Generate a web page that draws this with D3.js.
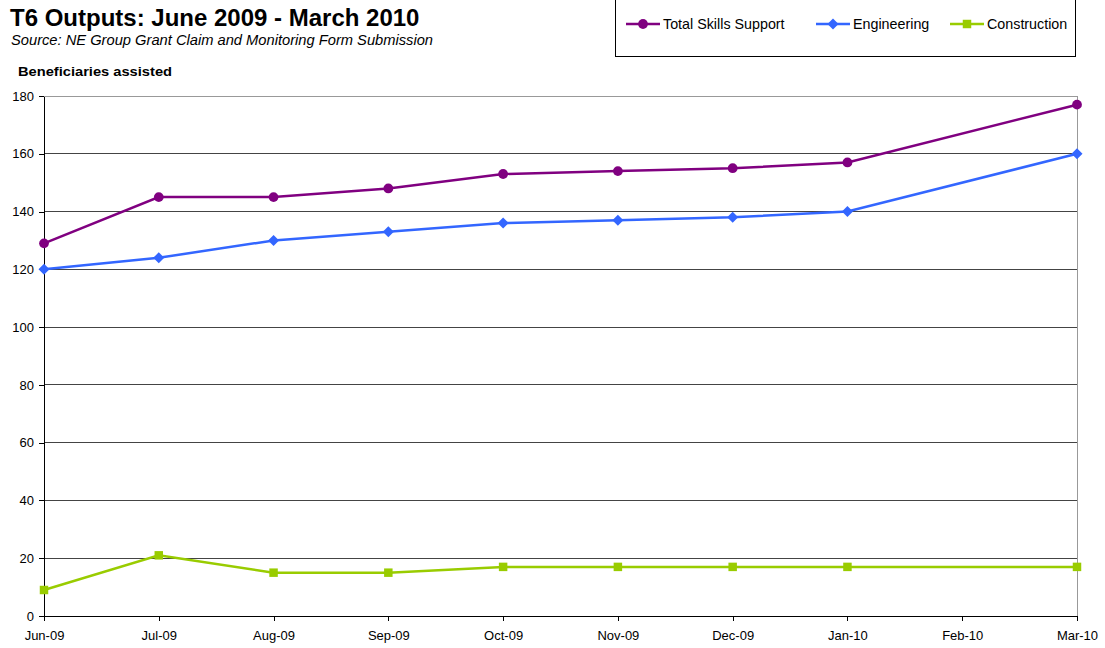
<!DOCTYPE html>
<html>
<head>
<meta charset="utf-8">
<script src="https://cdn.jsdelivr.net/npm/d3@7/dist/d3.min.js"></script>
<style>
  body { margin: 0; background: #fff; }
  svg { font-family: "Liberation Sans", Arial, sans-serif; display: block; }
</style>
</head>
<body>
<svg id="chart" width="1105" height="648"></svg>
<script>
// Monthly outputs, June 2009 - March 2010 (no return for Feb-10)
const months = ["Jun-09", "Jul-09", "Aug-09", "Sep-09", "Oct-09", "Nov-09", "Dec-09", "Jan-10", "Feb-10", "Mar-10"];
const totalSkills = [129, 145, 145, 148, 153, 154, 155, 157, null, 177];
const engineering = [120, 124, 130, 133, 136, 137, 138, 140, null, 160];
const construction = [9, 21, 15, 15, 17, 17, 17, 17, null, 17];
const yTicks = [0, 20, 40, 60, 80, 100, 120, 140, 160, 180];

const series = [
  { name: "Total Skills Support", values: totalSkills, color: "#800080", marker: "circle" },
  { name: "Engineering", values: engineering, color: "#3366FF", marker: "diamond" },
  { name: "Construction", values: construction, color: "#99CC00", marker: "square" }
];

const svg = d3.select("#chart");
const plot = { left: 44, right: 1077, top: 96, bottom: 616 };

const x = d3.scalePoint().domain(months).range([plot.left, plot.right]);
const y = d3.scaleLinear().domain([0, 180]).range([plot.bottom, plot.top]);

// Titles
svg.append("text").attr("x", 10).attr("y", 26)
  .attr("font-size", 24).attr("font-weight", "bold").attr("fill", "#000")
  .text("T6 Outputs: June 2009 - March 2010");
svg.append("text").attr("x", 11).attr("y", 45)
  .attr("font-size", 14.6).attr("font-style", "italic").attr("fill", "#000")
  .attr("textLength", 422).attr("lengthAdjust", "spacingAndGlyphs")
  .text("Source: NE Group Grant Claim and Monitoring Form Submission");
svg.append("text").attr("x", 18).attr("y", 76)
  .attr("font-size", 13.5).attr("font-weight", "bold").attr("fill", "#000")
  .attr("textLength", 154).attr("lengthAdjust", "spacingAndGlyphs")
  .text("Beneficiaries assisted");

// Gridlines
svg.append("g").selectAll("line").data(yTicks.filter(d => d > 0)).join("line")
  .attr("x1", plot.left).attr("x2", plot.right)
  .attr("y1", d => y(d)).attr("y2", d => y(d))
  .attr("stroke", d => d === 180 ? "#999" : "#444").attr("stroke-width", 1)
  .attr("shape-rendering", "crispEdges");

// Right border of plot area
svg.append("line")
  .attr("x1", plot.right).attr("x2", plot.right)
  .attr("y1", plot.top).attr("y2", plot.bottom)
  .attr("stroke", "#999").attr("shape-rendering", "crispEdges");

// Axes
const yAxis = d3.axisLeft(y).tickValues(yTicks).tickSize(5).tickSizeOuter(0);
const gy = svg.append("g").attr("transform", `translate(${plot.left},0)`).call(yAxis);
gy.select(".domain").attr("stroke", "#000").attr("shape-rendering", "crispEdges");
gy.selectAll(".tick line").attr("stroke", "#000").attr("shape-rendering", "crispEdges");
gy.selectAll(".tick text").attr("font-size", 13).attr("fill", "#000")
  .attr("font-family", "Liberation Sans, Arial, sans-serif").attr("x", -10);

const xAxis = d3.axisBottom(x).tickSize(5).tickSizeOuter(0);
const gx = svg.append("g").attr("transform", `translate(0,${plot.bottom})`).call(xAxis);
gx.select(".domain").attr("stroke", "#000").attr("shape-rendering", "crispEdges");
gx.selectAll(".tick line").attr("stroke", "#000").attr("shape-rendering", "crispEdges");
gx.selectAll(".tick text").attr("font-size", 13).attr("fill", "#000")
  .attr("font-family", "Liberation Sans, Arial, sans-serif").attr("dy", "1.2em");

// Marker shapes
const diamondPath = "M0,-5.5L5.5,0L0,5.5L-5.5,0Z";
const markerPath = {
  circle: d3.symbol().type(d3.symbolCircle).size(75)(),
  diamond: diamondPath,
  square: d3.symbol().type(d3.symbolSquare).size(72)()
};

const line = d3.line()
  .defined(d => d.v !== null)
  .x(d => x(d.m)).y(d => y(d.v));

series.forEach(s => {
  const pts = months.map((m, i) => ({ m, v: s.values[i] })).filter(d => d.v !== null);
  svg.append("path").datum(pts)
    .attr("d", line).attr("fill", "none")
    .attr("stroke", s.color).attr("stroke-width", 2.5);
  svg.append("g").selectAll("path").data(pts).join("path")
    .attr("transform", d => `translate(${x(d.m)},${y(d.v)})`)
    .attr("d", markerPath[s.marker]).attr("fill", s.color);
});

// Legend
const legend = svg.append("g");
legend.append("rect").attr("x", 615.5).attr("y", -2).attr("width", 460).attr("height", 58.5)
  .attr("fill", "#fff").attr("stroke", "#000").attr("stroke-width", 1);
const legendX = [626, 816, 950];
series.forEach((s, i) => {
  const g = legend.append("g").attr("transform", `translate(${legendX[i]},24)`);
  g.append("line").attr("x1", 0).attr("x2", 34).attr("stroke", s.color).attr("stroke-width", 2.5);
  g.append("path").attr("transform", "translate(17,0)").attr("d", markerPath[s.marker]).attr("fill", s.color);
  g.append("text").attr("x", 37).attr("y", 5).attr("font-size", 14.3).attr("fill", "#000").text(s.name);
});
</script>
</body>
</html>
